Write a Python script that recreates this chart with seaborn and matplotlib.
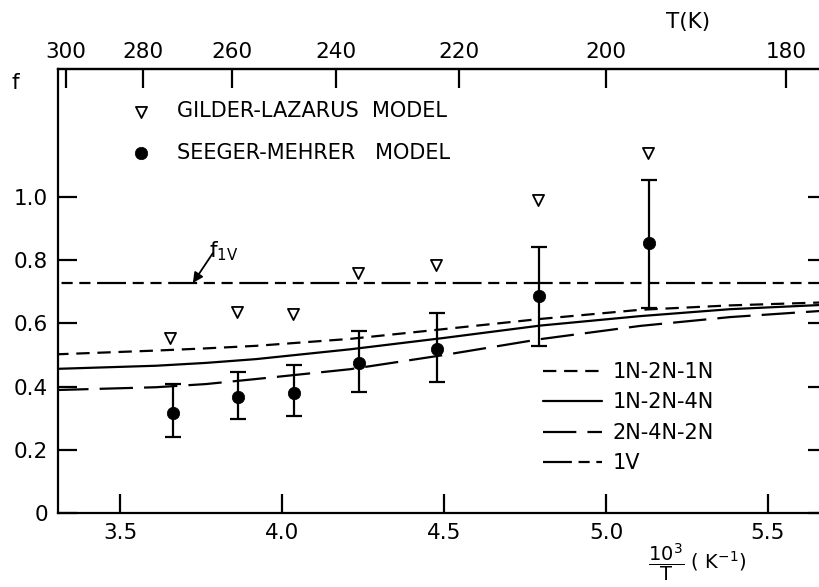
import numpy as np
import pandas as pd
import matplotlib
matplotlib.use("Agg")
import matplotlib.pyplot as plt
import seaborn as sns

# ---------------- data ----------------
# Gilder-Lazarus model (open triangles)
gl_x = [3.654, 3.861, 4.034, 4.235, 4.475, 4.790, 5.130]
gl_f = [0.554, 0.636, 0.630, 0.759, 0.785, 0.990, 1.139]

# Seeger-Mehrer model (filled circles with error bars)
sm_x = [3.664, 3.864, 4.038, 4.238, 4.478, 4.793, 5.133]
sm_f = [0.316, 0.367, 0.380, 0.475, 0.519, 0.687, 0.854]
sm_hi = [0.408, 0.446, 0.468, 0.576, 0.633, 0.842, 1.054]
sm_lo = [0.240, 0.297, 0.307, 0.383, 0.415, 0.528, 0.649]

# model curves
curve_x = [3.30, 3.611, 3.765, 3.920, 4.210, 4.500, 4.796, 5.105, 5.383, 5.657, 5.75]
f_1n2n1n = [0.502, 0.514, 0.521, 0.529, 0.551, 0.582, 0.614, 0.643, 0.657, 0.666, 0.667]
f_1n2n4n = [0.456, 0.466, 0.475, 0.487, 0.518, 0.554, 0.593, 0.623, 0.645, 0.658, 0.660]
f_2n4n2n = [0.389, 0.398, 0.408, 0.424, 0.455, 0.500, 0.550, 0.592, 0.620, 0.639, 0.642]
f_1v = 0.728

x_ticks = [3.5, 4.0, 4.5, 5.0, 5.5]
x_ticklabels = ["3.5", "4.0", "4.5", "5.0", "5.5"]
y_ticks = [0, 0.2, 0.4, 0.6, 0.8, 1.0]
y_ticklabels = ["0", "0.2", "0.4", "0.6", "0.8", "1.0"]
t_ticks = [300, 280, 260, 240, 220, 200, 180]

gl_label = "GILDER-LAZARUS  MODEL"
sm_label = "SEEGER-MEHRER   MODEL"
curve_labels = ["1N-2N-1N", "1N-2N-4N", "2N-4N-2N", "1V"]

# ---------------- style ----------------
sns.set_theme(style="white")
plt.rcParams["font.family"] = ["DejaVu Sans"]
plt.rcParams["mathtext.fontset"] = "dejavusans"
plt.rcParams["text.color"] = "black"
plt.rcParams["axes.labelcolor"] = "black"
FS = 15.5
LFS = 15
LW = 1.6

W, H = 819, 587
fig = plt.figure(figsize=(W / 100, H / 100), dpi=100)
# axes box in pixel coordinates (right spine falls just outside the image)
L, R, T, B = 58, 827, 69, 513
ax = fig.add_axes([L / W, (H - B) / H, (R - L) / W, (B - T) / H])

xmin = 3.5 + (L - 120) / 324
xmax = 3.5 + (R - 120) / 324
ax.set_xlim(xmin, xmax)
ax.set_ylim(0, (B - T) / 316)

# curves
d1 = pd.DataFrame({"x": curve_x, "f": f_1n2n1n})
d2 = pd.DataFrame({"x": curve_x, "f": f_1n2n4n})
d3 = pd.DataFrame({"x": curve_x, "f": f_2n4n2n})
d4 = pd.DataFrame({"x": [xmin - 0.1, xmax + 0.1], "f": [f_1v, f_1v]})

sns.lineplot(data=d1, x="x", y="f", ax=ax, color="black", lw=LW,
             linestyle=(0, (6, 3.5)), label=curve_labels[0], legend=False)
sns.lineplot(data=d2, x="x", y="f", ax=ax, color="black", lw=LW,
             linestyle="-", label=curve_labels[1], legend=False)
sns.lineplot(data=d3, x="x", y="f", ax=ax, color="black", lw=LW,
             linestyle=(0, (15, 5)), label=curve_labels[2], legend=False)
sns.lineplot(data=d4, x="x", y="f", ax=ax, color="black", lw=LW,
             linestyle=(0, (13, 3, 5, 3, 5, 3)), label=curve_labels[3], legend=False)
line_handles = ax.lines[-4:]

# error bars
sm_f_arr = np.array(sm_f)
ax.errorbar(sm_x, sm_f, yerr=[sm_f_arr - np.array(sm_lo), np.array(sm_hi) - sm_f_arr],
            fmt="none", ecolor="black", elinewidth=LW, capsize=5.5, capthick=LW, zorder=3)

# points
dgl = pd.DataFrame({"x": gl_x, "f": gl_f})
dsm = pd.DataFrame({"x": sm_x, "f": sm_f})
sns.scatterplot(data=dgl, x="x", y="f", ax=ax, marker="v", s=64, color="white",
                edgecolor="black", linewidth=1.3, zorder=4, legend=False)
tri = ax.collections[-1]
sns.scatterplot(data=dsm, x="x", y="f", ax=ax, marker="o", s=80, color="black",
                edgecolor="black", linewidth=0.5, zorder=4, legend=False)
circ = ax.collections[-1]

# axes / ticks
ax.set_xlabel("")
ax.set_ylabel("")
ax.set_xticks(x_ticks)
ax.set_xticklabels(x_ticklabels)
ax.set_yticks(y_ticks)
ax.set_yticklabels(y_ticklabels)
ax.tick_params(axis="both", which="major", direction="in", length=14, width=LW,
               labelsize=FS, colors="black", pad=7)
ax.tick_params(axis="x", top=False, bottom=True)
ax.tick_params(axis="y", left=True, right=True)
for sp in ax.spines.values():
    sp.set_linewidth(LW)
    sp.set_color("black")

inv = lambda v: 1000.0 / np.asarray(v, dtype=float)
secax = ax.secondary_xaxis("top", functions=(inv, inv))
secax.set_xticks(t_ticks)
secax.set_xticklabels([str(t) for t in t_ticks])
secax.tick_params(direction="in", length=14, width=LW, labelsize=FS, pad=5, colors="black")
secax.spines["top"].set_linewidth(LW)

# legends
leg1 = ax.legend(handles=[tri, circ], labels=[gl_label, sm_label], loc="upper left",
                 bbox_to_anchor=((130.3 - L) / (R - L), 1 - (101 - T) / (B - T)),
                 frameon=False, fontsize=LFS, handlelength=1.0, handletextpad=1.25,
                 labelspacing=1.05, borderpad=0, borderaxespad=0)
ax.add_artist(leg1)
leg2 = ax.legend(handles=line_handles, labels=curve_labels, loc="upper left",
                 bbox_to_anchor=((543 - L) / (R - L), 1 - (362 - T) / (B - T)),
                 frameon=False, fontsize=LFS, handlelength=2.85, handletextpad=0.5,
                 labelspacing=0.5, borderpad=0, borderaxespad=0)

# f_1V annotation
ax.annotate("", xy=(3.725, f_1v), xytext=(3.787, 0.823),
            arrowprops=dict(arrowstyle="-|>", color="black", lw=1.3,
                            mutation_scale=15, shrinkA=0, shrinkB=0))
ax.text(3.775, 0.81, r"f$_{\mathrm{1V}}$", fontsize=FS, ha="left", va="baseline")

# outer labels
fig.text(15 / W, 1 - 83 / H, "f", fontsize=FS, ha="center", va="center")
fig.text(688 / W, 1 - 22 / H, "T(K)", fontsize=FS, ha="center", va="center")
fig.text(648 / W, 1 - 562 / H, r"$\dfrac{10^3}{\mathrm{T}}$ ( K$^{-1}$)", fontsize=14,
         ha="left", va="center")

fig.savefig("out.png", dpi=100)
